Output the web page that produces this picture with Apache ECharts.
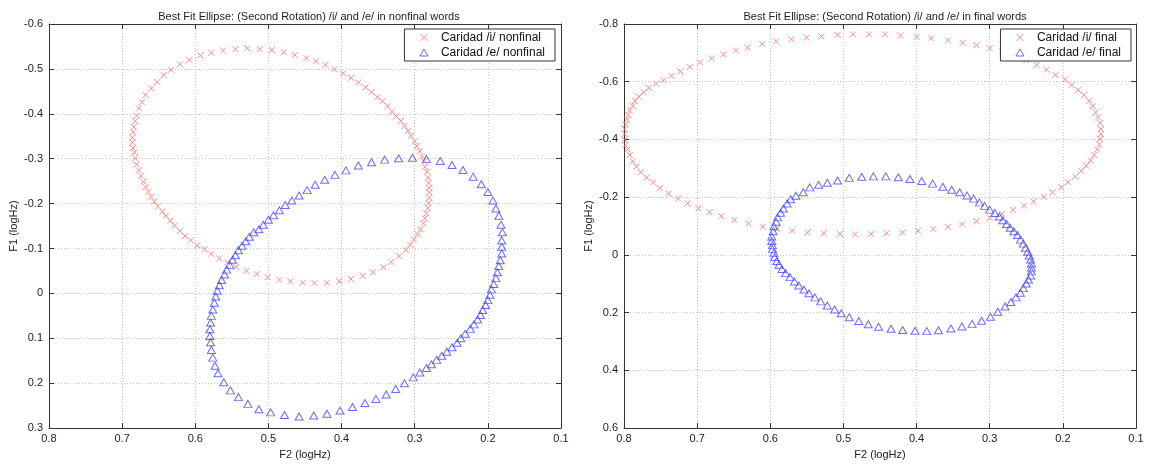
<!DOCTYPE html>
<html>
<head>
<meta charset="utf-8">
<script src="https://cdn.jsdelivr.net/npm/echarts@6/dist/echarts.min.js"></script>
<style>
html, body { margin: 0; padding: 0; background: #fff; }
#Echarts_Div { width: 1152px; height: 465px; }
</style>
</head>
<body>
<div id="Echarts_Div"></div>
<script>
// F2 (x), F1 (y) points
var nonfinalI = [[0.686,-0.336],[0.686,-0.347],[0.685,-0.359],[0.684,-0.371],[0.682,-0.384],[0.680,-0.396],[0.677,-0.412],[0.673,-0.426],[0.668,-0.442],[0.660,-0.457],[0.652,-0.471],[0.643,-0.486],[0.633,-0.498],[0.621,-0.510],[0.608,-0.520],[0.593,-0.530],[0.578,-0.536],[0.562,-0.541],[0.545,-0.544],[0.529,-0.546],[0.512,-0.544],[0.495,-0.542],[0.479,-0.537],[0.464,-0.531],[0.448,-0.524],[0.435,-0.517],[0.422,-0.509],[0.410,-0.499],[0.398,-0.490],[0.387,-0.480],[0.377,-0.470],[0.367,-0.459],[0.359,-0.448],[0.351,-0.437],[0.344,-0.428],[0.337,-0.417],[0.331,-0.405],[0.325,-0.394],[0.319,-0.384],[0.314,-0.373],[0.309,-0.362],[0.305,-0.351],[0.300,-0.339],[0.297,-0.328],[0.293,-0.317],[0.290,-0.305],[0.287,-0.294],[0.286,-0.282],[0.283,-0.271],[0.282,-0.258],[0.281,-0.246],[0.280,-0.235],[0.280,-0.225],[0.280,-0.213],[0.281,-0.201],[0.282,-0.190],[0.284,-0.178],[0.286,-0.167],[0.288,-0.156],[0.292,-0.143],[0.296,-0.132],[0.301,-0.120],[0.306,-0.108],[0.312,-0.096],[0.321,-0.083],[0.332,-0.070],[0.343,-0.058],[0.357,-0.047],[0.371,-0.039],[0.387,-0.032],[0.403,-0.027],[0.420,-0.024],[0.437,-0.023],[0.453,-0.024],[0.470,-0.027],[0.485,-0.030],[0.501,-0.036],[0.516,-0.043],[0.530,-0.050],[0.544,-0.059],[0.556,-0.069],[0.567,-0.078],[0.578,-0.088],[0.587,-0.098],[0.597,-0.107],[0.606,-0.118],[0.614,-0.128],[0.621,-0.139],[0.628,-0.151],[0.634,-0.162],[0.640,-0.173],[0.645,-0.182],[0.651,-0.194],[0.656,-0.204],[0.660,-0.215],[0.664,-0.226],[0.668,-0.237],[0.671,-0.249],[0.674,-0.262],[0.677,-0.274],[0.680,-0.287],[0.682,-0.301],[0.683,-0.314],[0.685,-0.324]];

var nonfinalE = [[0.520,-0.136],[0.513,-0.143],[0.507,-0.153],[0.500,-0.164],[0.493,-0.174],[0.485,-0.185],[0.477,-0.197],[0.468,-0.207],[0.458,-0.218],[0.447,-0.230],[0.436,-0.242],[0.423,-0.253],[0.409,-0.264],[0.394,-0.274],[0.377,-0.285],[0.359,-0.292],[0.341,-0.298],[0.322,-0.301],[0.303,-0.302],[0.284,-0.299],[0.265,-0.295],[0.249,-0.286],[0.234,-0.275],[0.220,-0.260],[0.209,-0.243],[0.200,-0.226],[0.193,-0.207],[0.189,-0.189],[0.185,-0.173],[0.182,-0.153],[0.180,-0.136],[0.181,-0.118],[0.181,-0.104],[0.181,-0.089],[0.183,-0.074],[0.185,-0.061],[0.187,-0.047],[0.189,-0.034],[0.192,-0.021],[0.195,-0.009],[0.197,0.003],[0.200,0.015],[0.203,0.026],[0.207,0.037],[0.210,0.048],[0.214,0.058],[0.219,0.069],[0.224,0.079],[0.231,0.090],[0.237,0.100],[0.242,0.110],[0.249,0.120],[0.256,0.130],[0.263,0.139],[0.270,0.148],[0.277,0.158],[0.284,0.166],[0.293,0.176],[0.302,0.187],[0.314,0.200],[0.326,0.213],[0.339,0.225],[0.353,0.235],[0.368,0.244],[0.385,0.253],[0.402,0.261],[0.420,0.268],[0.438,0.272],[0.458,0.274],[0.478,0.271],[0.497,0.265],[0.513,0.258],[0.528,0.246],[0.541,0.231],[0.552,0.216],[0.561,0.198],[0.569,0.178],[0.573,0.161],[0.576,0.143],[0.578,0.126],[0.579,0.109],[0.580,0.095],[0.580,0.080],[0.579,0.065],[0.578,0.050],[0.576,0.036],[0.574,0.021],[0.572,0.007],[0.570,-0.006],[0.567,-0.018],[0.564,-0.030],[0.560,-0.042],[0.557,-0.053],[0.553,-0.064],[0.549,-0.075],[0.545,-0.085],[0.541,-0.096],[0.536,-0.106],[0.531,-0.116],[0.526,-0.126]];

var finalI = [[0.799,-0.419],[0.799,-0.436],[0.798,-0.452],[0.796,-0.469],[0.794,-0.485],[0.792,-0.501],[0.788,-0.517],[0.785,-0.533],[0.780,-0.548],[0.773,-0.563],[0.766,-0.579],[0.756,-0.593],[0.746,-0.605],[0.735,-0.620],[0.723,-0.636],[0.710,-0.651],[0.696,-0.667],[0.680,-0.681],[0.664,-0.695],[0.647,-0.708],[0.631,-0.719],[0.611,-0.731],[0.592,-0.740],[0.571,-0.747],[0.550,-0.753],[0.530,-0.757],[0.508,-0.762],[0.487,-0.764],[0.465,-0.764],[0.443,-0.764],[0.422,-0.761],[0.400,-0.756],[0.380,-0.750],[0.357,-0.743],[0.337,-0.735],[0.318,-0.726],[0.300,-0.716],[0.283,-0.705],[0.266,-0.694],[0.250,-0.675],[0.236,-0.658],[0.222,-0.642],[0.210,-0.624],[0.197,-0.608],[0.188,-0.589],[0.179,-0.571],[0.171,-0.553],[0.164,-0.534],[0.159,-0.515],[0.155,-0.494],[0.152,-0.476],[0.149,-0.457],[0.148,-0.436],[0.148,-0.419],[0.149,-0.402],[0.150,-0.383],[0.153,-0.365],[0.157,-0.346],[0.162,-0.328],[0.168,-0.309],[0.175,-0.291],[0.183,-0.271],[0.193,-0.252],[0.202,-0.234],[0.214,-0.217],[0.226,-0.201],[0.240,-0.185],[0.253,-0.171],[0.268,-0.156],[0.283,-0.142],[0.300,-0.128],[0.318,-0.116],[0.338,-0.106],[0.357,-0.097],[0.377,-0.090],[0.398,-0.083],[0.419,-0.078],[0.441,-0.075],[0.462,-0.073],[0.484,-0.071],[0.505,-0.073],[0.527,-0.075],[0.549,-0.078],[0.570,-0.084],[0.591,-0.090],[0.610,-0.098],[0.630,-0.109],[0.649,-0.121],[0.667,-0.134],[0.683,-0.148],[0.698,-0.161],[0.713,-0.178],[0.726,-0.195],[0.739,-0.212],[0.751,-0.231],[0.760,-0.251],[0.769,-0.268],[0.777,-0.286],[0.783,-0.306],[0.788,-0.324],[0.792,-0.346],[0.795,-0.365],[0.798,-0.381],[0.799,-0.399]];

var finalE = [[0.598,-0.064],[0.596,-0.082],[0.595,-0.099],[0.592,-0.115],[0.590,-0.130],[0.586,-0.146],[0.582,-0.161],[0.577,-0.178],[0.572,-0.193],[0.565,-0.205],[0.555,-0.217],[0.546,-0.234],[0.534,-0.243],[0.522,-0.250],[0.508,-0.258],[0.492,-0.267],[0.475,-0.271],[0.459,-0.272],[0.442,-0.272],[0.425,-0.269],[0.409,-0.263],[0.393,-0.256],[0.378,-0.247],[0.364,-0.236],[0.352,-0.226],[0.341,-0.217],[0.331,-0.206],[0.322,-0.195],[0.314,-0.182],[0.307,-0.170],[0.300,-0.157],[0.293,-0.145],[0.287,-0.133],[0.282,-0.120],[0.277,-0.107],[0.272,-0.094],[0.267,-0.082],[0.262,-0.069],[0.258,-0.053],[0.254,-0.039],[0.251,-0.025],[0.248,-0.011],[0.246,0.002],[0.244,0.016],[0.243,0.030],[0.243,0.044],[0.243,0.057],[0.244,0.071],[0.247,0.085],[0.250,0.099],[0.254,0.115],[0.258,0.131],[0.264,0.147],[0.271,0.163],[0.279,0.179],[0.289,0.197],[0.299,0.214],[0.311,0.228],[0.324,0.239],[0.338,0.248],[0.353,0.255],[0.370,0.261],[0.386,0.264],[0.402,0.263],[0.419,0.260],[0.435,0.256],[0.452,0.249],[0.466,0.240],[0.479,0.229],[0.492,0.216],[0.503,0.202],[0.512,0.189],[0.522,0.175],[0.531,0.161],[0.539,0.147],[0.547,0.133],[0.554,0.120],[0.561,0.106],[0.567,0.092],[0.573,0.077],[0.579,0.063],[0.584,0.049],[0.588,0.034],[0.591,0.021],[0.594,0.007],[0.595,-0.007],[0.597,-0.021],[0.597,-0.034],[0.598,-0.048]];

var titles = ['Best Fit Ellipse: (Second Rotation) /i/ and /e/ in nonfinal words',
              'Best Fit Ellipse: (Second Rotation) /i/ and /e/ in final words'];
var names = [['Caridad /i/ nonfinal', 'Caridad /e/ nonfinal'],
             ['Caridad /i/ final', 'Caridad /e/ final']];
var yRanges = [[-0.6, 0.3, 0.1], [-0.8, 0.6, 0.2]];
var xRange = [0.1, 0.8, 0.1];

var FONT = 'Liberation Sans, Arial, sans-serif';
var RED = '#ff6a6a';
var BLUE = '#4646ff';
var X_MARK = 'path://M0,0L10,10M10,0L0,10';

function mainX(gi) {
    return {
        type: 'value', gridIndex: gi, inverse: true,
        min: xRange[0], max: xRange[1], interval: xRange[2],
        name: 'F2 (logHz)', nameLocation: 'middle', nameGap: 20,
        nameTextStyle: { fontFamily: FONT, fontSize: 11, color: '#222' },
        axisLine: { onZero: false, lineStyle: { color: '#333', width: 1 } },
        axisTick: { inside: true, length: 5, lineStyle: { color: '#333' } },
        axisLabel: { fontFamily: FONT, fontSize: 11, color: '#222', margin: 5 },
        splitLine: { show: true, lineStyle: { color: '#c4c4c4', type: [1, 2] } }
    };
}
function boxX(gi) {
    return {
        type: 'value', gridIndex: gi, inverse: true, position: 'top',
        min: xRange[0], max: xRange[1], interval: xRange[2],
        axisLine: { onZero: false, lineStyle: { color: '#333', width: 1 } },
        axisTick: { inside: true, length: 5, lineStyle: { color: '#333' } },
        axisLabel: { show: false }, splitLine: { show: false }
    };
}
function mainY(gi) {
    var r = yRanges[gi];
    return {
        type: 'value', gridIndex: gi, inverse: true,
        min: r[0], max: r[1], interval: r[2],
        name: 'F1 (logHz)', nameLocation: 'middle', nameGap: 30, nameRotate: 90,
        nameTextStyle: { fontFamily: FONT, fontSize: 11, color: '#222' },
        axisLine: { show: true, onZero: false, lineStyle: { color: '#333', width: 1 } },
        axisTick: { show: true, inside: true, length: 5, lineStyle: { color: '#333' } },
        axisLabel: { fontFamily: FONT, fontSize: 11, color: '#222', margin: 6 },
        splitLine: { show: true, lineStyle: { color: '#c4c4c4', type: [1, 2] } }
    };
}
function boxY(gi) {
    var r = yRanges[gi];
    return {
        type: 'value', gridIndex: gi, inverse: true, position: 'right',
        min: r[0], max: r[1], interval: r[2],
        axisLine: { show: true, onZero: false, lineStyle: { color: '#333', width: 1 } },
        axisTick: { show: true, inside: true, length: 5, lineStyle: { color: '#333' } },
        axisLabel: { show: false }, splitLine: { show: false }
    };
}
function markSeries(name, data, axisIdx, isTri) {
    return {
        type: 'scatter', name: name, data: data,
        xAxisIndex: axisIdx, yAxisIndex: axisIdx,
        symbol: isTri ? 'triangle' : X_MARK,
        symbolSize: isTri ? [8, 7] : 6,
        itemStyle: { color: 'none', borderColor: isTri ? BLUE : RED, borderWidth: 1 },
        emphasis: { disabled: true },
        silent: true
    };
}
function legendBox(list, right) {
    return {
        data: list, right: right, top: 29, orient: 'vertical',
        itemGap: 2, itemWidth: 8, itemHeight: 7,
        itemStyle: { borderWidth: 1 },
        padding: [2, 10, 2, 13], borderColor: '#333', borderWidth: 1, backgroundColor: '#fff',
        textStyle: { fontFamily: FONT, fontSize: 12, lineHeight: 13, color: '#111', padding: [0, 0, 0, 8] }
    };
}

var chart = echarts.init(document.getElementById('Echarts_Div'));
var option = {
    animation: false,
    backgroundColor: '#fff',
    title: [
        { text: titles[0], left: 304, top: 6, textAlign: 'center',
          textStyle: { fontFamily: FONT, fontSize: 11, fontWeight: 'normal', color: '#222' } },
        { text: titles[1], left: 880, top: 6, textAlign: 'center',
          textStyle: { fontFamily: FONT, fontSize: 11, fontWeight: 'normal', color: '#222' } }
    ],
    legend: [legendBox(names[0], 597), legendBox(names[1], 21)],
    grid: [
        { left: 49, right: 591, top: 24, bottom: 36 },
        { left: 624, right: 16, top: 24, bottom: 36 }
    ],
    xAxis: [mainX(0), boxX(0), mainX(1), boxX(1)],
    yAxis: [mainY(0), boxY(0), mainY(1), boxY(1)],
    series: [
        markSeries(names[0][0], nonfinalI, 0, false),
        markSeries(names[0][1], nonfinalE, 0, true),
        markSeries(names[1][0], finalI, 2, false),
        markSeries(names[1][1], finalE, 2, true)
    ]
};
chart.setOption(option);
</script>
</body>
</html>
